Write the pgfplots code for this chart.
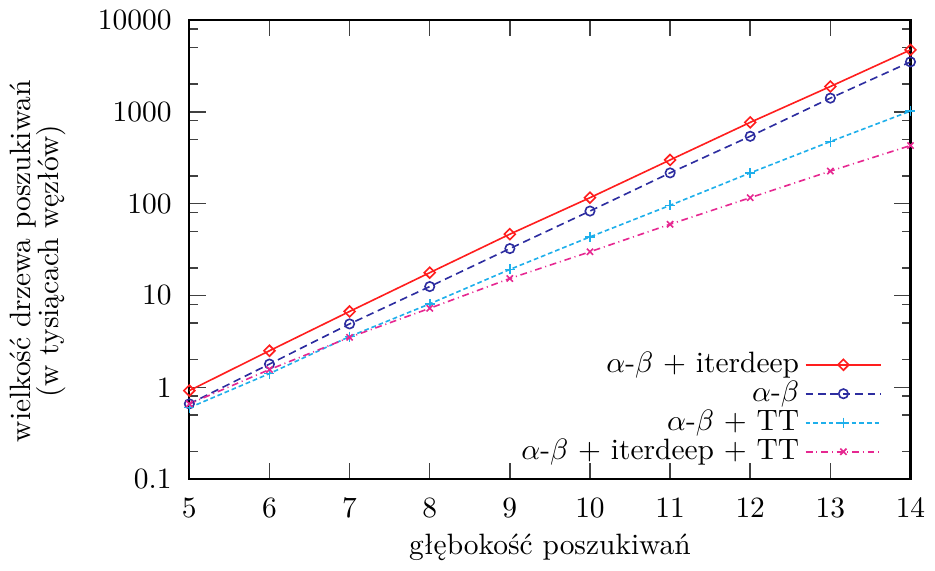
\documentclass[border=0pt]{standalone}
\usepackage{fontspec}
\usepackage{pgfplots}
\pgfplotsset{compat=1.18}
\definecolor{cred}{RGB}{255,30,30}
\definecolor{cblue}{RGB}{45,45,160}
\definecolor{ccyan}{RGB}{30,175,235}
\definecolor{cmag}{RGB}{230,40,145}
\begin{document}
\begin{tikzpicture}
\begin{axis}[
  scale only axis, width=245pt, height=156pt,
  ymode=log, log basis y=10,
  xmin=5, xmax=14, ymin=0.1, ymax=10000,
  xtick={5,6,...,14},
  ytick={0.1,1,10,100,1000,10000},
  yticklabels={0.1,1,10,100,1000,10000},
  minor ytick={0.2,0.5,0.8,2,5,8,20,50,80,200,500,800,2000,5000,8000},
  tick align=inside,
  major tick length=5.5pt, minor tick length=3pt,
  axis line style={line width=0.7pt},
  every tick/.style={black!75, line width=0.5pt},
  xticklabel style={yshift=-3pt},
  yticklabel style={xshift=-2.5pt},
  every axis x label/.style={at={(rel axis cs:0.5,0)},anchor=center,yshift=-23.2pt},
  every axis y label/.style={at={(rel axis cs:0,0.5)},xshift=-51.5pt,yshift=-4pt,rotate=90,anchor=center,align=center},
  xlabel={głębokość poszukiwań},
  ylabel={wielkość drzewa poszukiwań\\[-2.5pt](w tysiącach węzłów)},
  extra description/.code={\path (rel axis cs:0,1) ++(0,7.5pt);},
  legend plot pos=right,
  legend cell align=right,
  legend style={at={(rel axis cs:1,0)}, anchor=south east, xshift=-9.5pt, yshift=2.9pt,
    draw=none, fill=none, inner sep=0pt, row sep=-2.6pt,
    /tikz/every even column/.append style={column sep=5pt}},
  legend image code/.code={\draw[mark repeat=2,mark phase=2] plot coordinates {(0cm,0cm)(0.45cm,0cm)(0.9cm,0cm)};},
]
\addplot[cred, line width=0.55pt, mark=square, mark size=1.3pt, mark options={solid, rotate=45}]
  coordinates {(5,0.92)(6,2.5)(7,6.7)(8,17.7)(9,46.5)(10,116)(11,299)(12,767)(13,1885)(14,4720)};
\addlegendentry{$\alpha$-$\beta$ $+$ iterdeep}
\addplot[cblue, line width=0.55pt, dash pattern=on 2.6pt off 1.6pt, mark=o, mark size=1.6pt, mark options={solid}]
  coordinates {(5,0.66)(6,1.79)(7,4.9)(8,12.5)(9,32.4)(10,83)(11,216)(12,541)(13,1408)(14,3494)};
\addlegendentry{$\alpha$-$\beta$}
\addplot[ccyan, line width=0.55pt, dash pattern=on 1.6pt off 1pt, mark=+, mark size=1.7pt, mark options={solid}]
  coordinates {(5,0.6)(6,1.41)(7,3.57)(8,8.1)(9,19.2)(10,43.4)(11,95.8)(12,216)(13,474)(14,1018)};
\addlegendentry{$\alpha$-$\beta$ $+$ TT}
\addplot[cmag, line width=0.55pt, dash pattern=on 2.3pt off 1.3pt on 0.35pt off 1.3pt, mark=x, mark size=1.5pt, mark options={solid}]
  coordinates {(5,0.66)(6,1.56)(7,3.5)(8,7.25)(9,15.3)(10,29.9)(11,59.6)(12,116)(13,226)(14,429)};
\addlegendentry{$\alpha$-$\beta$ $+$ iterdeep $+$ TT}
\end{axis}
\end{tikzpicture}
\end{document}
